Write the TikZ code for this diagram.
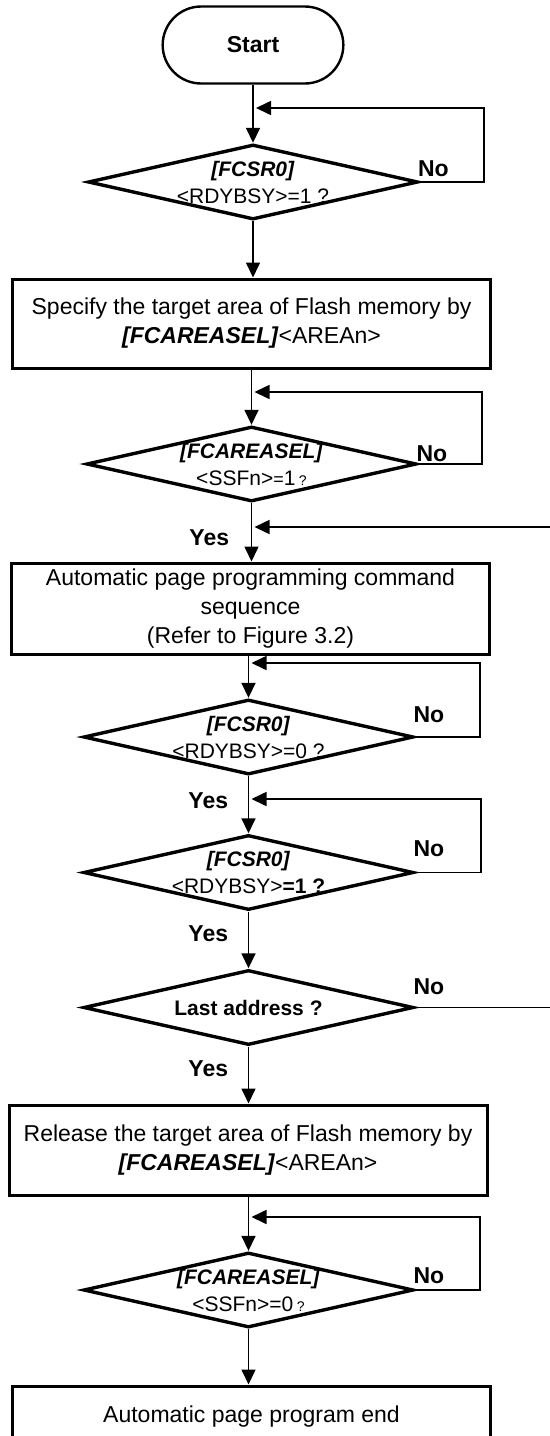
\documentclass[tikz,border=0pt]{standalone}
\usepackage{fontspec}
\setmainfont{Liberation Sans}
\usetikzlibrary{arrows.meta, positioning, shapes.geometric, shapes.misc}

\begin{document}
\begin{tikzpicture}[x=0.5pt, y=-0.5pt,
    flow/.style={line width=0.8pt, -{Triangle[length=7.5pt,width=7pt]}},
    term/.style={draw, rounded rectangle, line width=1.2pt, minimum width=97pt,
                 minimum height=38.5pt, font=\fontsize{11.5}{14}\selectfont\bfseries},
    proc/.style={draw, rectangle, line width=1.5pt, minimum width=239pt,
                 align=center, inner sep=0pt, font=\fontsize{11.5}{14.5}\selectfont},
    decide/.style={draw, diamond, line width=1.7pt, minimum width=165pt,
                   minimum height=37.5pt, inner sep=0pt},
    dtext/.style={align=center, inner sep=0pt, font=\fontsize{10.5}{13.5}\selectfont},
    yesno/.style={inner sep=0pt, font=\fontsize{11.5}{14}\selectfont\bfseries}]
  \useasboundingbox (0,0) rectangle (550,1436);

  \node (start) [term] at (253,45) {Start};

  \node (d1) [decide] at (253,182) {};
  \node (d1t) [dtext] at (d1) {\textbf{\textit{[FCSR0]}}\\<RDYBSY>=1 ?};

  \node (box1) [proc, minimum height=44.5pt] at (251.5,323.5)
    {Specify the target area of Flash memory by\\\textbf{\textit{[FCAREASEL]}}<AREAn>};

  \node (d2) [decide] at (251.5,464) {};
  \node (d2t) [dtext] at (d2) {\textbf{\textit{[FCAREASEL]}}\\<SSFn>{\small=}1\,{\scriptsize ?}};

  \node (box2) [proc, minimum height=45.5pt] at (250.5,608.5)
    {Automatic page programming command\\sequence\\(Refer to Figure 3.2)};

  \node (d3) [decide] at (248.5,737) {};
  \node (d3t) [dtext] at (d3) {\textbf{\textit{[FCSR0]}}\\<RDYBSY>=0 ?};

  \node (d4) [decide] at (248.5,872.5) {};
  \node (d4t) [dtext] at (d4) {\textbf{\textit{[FCSR0]}}\\<RDYBSY>\textbf{=1 ?}};

  \node (d5) [decide] at (248.5,1007.5) {};
  \node (d5t) [dtext] at (d5) {\textbf{Last address ?}};

  \node (box3) [proc, minimum height=45pt] at (248,1150)
    {Release the target area of Flash memory by\\\textbf{\textit{[FCAREASEL]}}<AREAn>};

  \node (d6) [decide] at (248.5,1290) {};
  \node (d6t) [dtext] at (d6) {\textbf{\textit{[FCAREASEL]}}\\<SSFn>=0\,{\scriptsize ?}};

  \node (box4) [proc, minimum height=31pt] at (251.5,1417) {Automatic page program end};

  % main flow
  \draw [flow] (start.south) -- (d1.north);
  \draw [flow] (d1.south) -- (d1.south |- box1.north);
  \draw [flow] (d2.north |- box1.south) -- (d2.north);
  \draw [flow] (d2.south) -- (d2.south |- box2.north);
  \draw [flow] (d3.north |- box2.south) -- (d3.north);
  \draw [flow] (d3.south) -- (d4.north);
  \draw [flow] (d4.south) -- (d5.north);
  \draw [flow] (d5.south) -- (d5.south |- box3.north);
  \draw [flow] (d6.north |- box3.south) -- (d6.north);
  \draw [flow] (d6.south) -- (d6.south |- box4.north);

  % loop back points
  \coordinate (j1) at (256,108);
  \coordinate (j2) at (254.5,392);
  \coordinate (j5) at (254.5,527);
  \coordinate (j3) at (251.5,663);
  \coordinate (j4) at (251.5,799);
  \coordinate (j6) at (251.5,1217);

  \draw [flow] (d1.east) -- ++(64,0) |- (j1);
  \draw [flow] (d2.east) -- ++(64,0) |- (j2);
  \draw [flow] (d3.east) -- ++(65,0) |- (j3);
  \draw [flow] (d4.east) -- ++(66,0) |- (j4);
  \draw [flow] (d5.east) -- ++(140,0) |- (j5);
  \draw [flow] (d6.east) -- ++(65,0) |- (j6);

  % yes / no
  \node (no1) [yesno, above right=2.5pt and -1pt of d1.east] {No};
  \node (no2) [yesno, above right=1pt and -1pt of d2.east] {No};
  \node (no3) [yesno, above right=7pt and -1pt of d3.east] {No};
  \node (no4) [yesno, above right=7.5pt and -1pt of d4.east] {No};
  \node (no5) [yesno, above right=6pt and -1pt of d5.east] {No};
  \node (no6) [yesno, above right=3pt and -1pt of d6.east] {No};

  \node (yes2) [yesno, below left=13pt and 11pt of d2.south] {Yes};
  \node (yes3) [yesno, below left=8pt and 10pt of d3.south] {Yes};
  \node (yes4) [yesno, below left=7pt and 10pt of d4.south] {Yes};
  \node (yes5) [yesno, below left=7pt and 10pt of d5.south] {Yes};
\end{tikzpicture}
\end{document}
